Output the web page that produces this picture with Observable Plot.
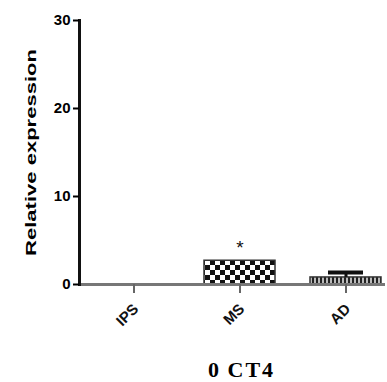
<!DOCTYPE html>
<html>
<head>
<meta charset="utf-8">
<script src="https://cdn.jsdelivr.net/npm/d3@7"></script>
<script src="https://cdn.jsdelivr.net/npm/@observablehq/plot@0.6"></script>
<style>
  html, body { margin: 0; padding: 0; background: #fff; }
  #wrap { position: relative; width: 387px; height: 382px; }
  #title { position: absolute; left: 208px; top: 359px; font-family: "Liberation Serif", serif; font-weight: bold; font-size: 22px; line-height: 22px; letter-spacing: 2px; word-spacing: -1px; white-space: nowrap; color: #000; }
</style>
</head>
<body>
<div id="wrap"></div>
<script>
const categories = ["IPS", "MS", "AD"];
const values = [0, 2.7, 0.8];
const errorTops = [0, 2.7, 1.35];
const significance = ["", "*", ""];
const yTicks = [0, 10, 20, 30];
const yLabel = "Relative expression";
const titleText = "0 CT4";
const barFills = ["url(#checker)", "url(#checker)", "url(#stripes)"];

const data = categories.map((c, i) => ({cat: c, value: values[i], err: errorTops[i], sig: significance[i], fill: barFills[i]}));

const plot = Plot.plot({
  width: 387,
  height: 355,
  marginLeft: 79,
  marginRight: 2,
  marginTop: 20,
  marginBottom: 71,
  style: {fontFamily: "Liberation Sans, Arial, sans-serif", fontWeight: "bold", fontSize: "14px", background: "white"},
  x: {domain: categories, range: [79.5, 399], paddingInner: 0.33, paddingOuter: 0.165},
  y: {domain: [0, 30]},
  color: {type: "identity"},
  marks: [
    Plot.barY(data.filter(d => d.value > 0), {x: "cat", y: "value", fill: "fill", stroke: "#333", strokeWidth: 1.5}),
    Plot.ruleX(data.filter(d => d.err > d.value), {x: "cat", y1: "value", y2: "err", stroke: "#111", strokeWidth: 3}),
    Plot.tickY(data.filter(d => d.err > d.value), {x: "cat", y: "err", stroke: "#111", strokeWidth: 4, inset: 18}),
    Plot.text(data.filter(d => d.sig), {x: "cat", y: "value", text: "sig", dy: -13, fontSize: 19, fontWeight: "normal", fill: "#111"}),
    Plot.ruleY([0], {stroke: "#777", strokeWidth: 3}),
    Plot.frame({anchor: "left", stroke: "#111", strokeWidth: 3}),
    Plot.axisY({ticks: yTicks, tickSize: 6, tickPadding: 3, strokeWidth: 2, label: yLabel, labelAnchor: "center", labelArrow: "none", labelOffset: 54, fontSize: 15}),
    Plot.axisX({tickSize: 9, tickFormat: () => "", stroke: "#666", strokeWidth: 2, label: null}),
    Plot.text(categories, {x: d => d, y: 0, text: d => d, dx: 2, dy: 22, rotate: -45, textAnchor: "end", lineAnchor: "middle", fontSize: 15, fontWeight: "bold", fill: "#111"})
  ]
});

const ns = "http://www.w3.org/2000/svg";
const defs = document.createElementNS(ns, "defs");
defs.innerHTML = `
<pattern id="checker" width="10" height="10" patternUnits="userSpaceOnUse">
  <rect width="10" height="10" fill="#fff"/>
  <rect width="5" height="5" fill="#111"/>
  <rect x="5" y="5" width="5" height="5" fill="#111"/>
</pattern>
<pattern id="stripes" width="4" height="4" patternUnits="userSpaceOnUse">
  <rect width="4" height="4" fill="#bbb"/>
  <rect width="2" height="4" fill="#222"/>
</pattern>`;
plot.insertBefore(defs, plot.firstChild);

// stretch y-axis label to the reference length
plot.querySelectorAll("text").forEach(t => {
  if (t.textContent === yLabel) {
    t.setAttribute("textLength", "207");
    t.setAttribute("lengthAdjust", "spacingAndGlyphs");
    t.style.fontSize = "15px";
  }
});

const wrap = document.getElementById("wrap");
wrap.appendChild(plot);
const title = document.createElement("div");
title.id = "title";
title.textContent = titleText;
wrap.appendChild(title);
</script>
</body>
</html>
